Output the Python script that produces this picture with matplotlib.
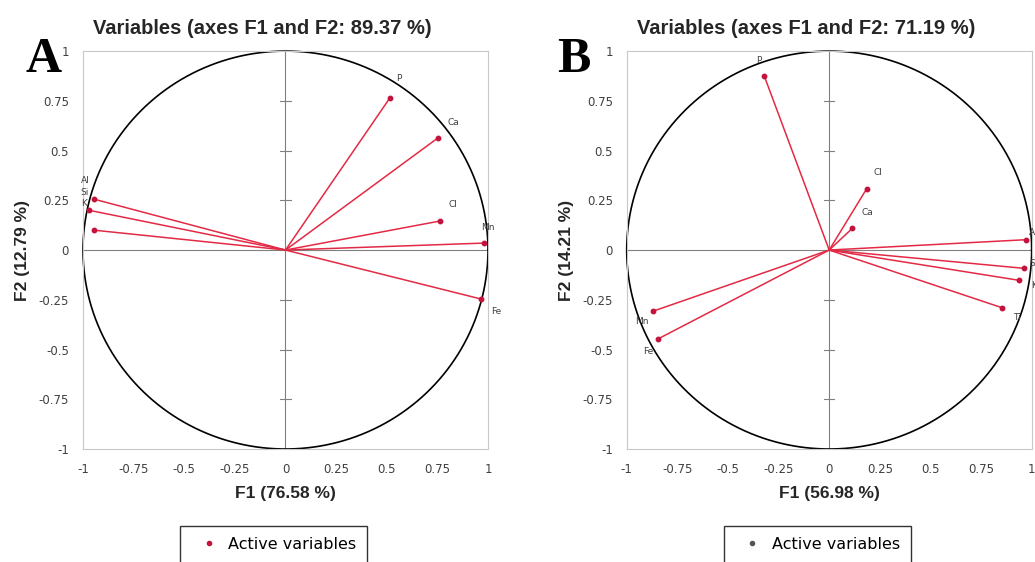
import numpy as np
import matplotlib.pyplot as plt

plt.rcParams['axes.unicode_minus'] = False

# panel A loadings
names_a = ['P', 'Ca', 'Cl', 'Mn', 'Fe', 'Al', 'Si', 'K']
f1_a = [0.515, 0.752, 0.763, 0.980, 0.965, -0.946, -0.970, -0.946]
f2_a = [0.764, 0.563, 0.146, 0.035, -0.246, 0.256, 0.200, 0.100]
lab_a = [(0.56, 0.86), (0.83, 0.64), (0.825, 0.23), (1.0, 0.115), (1.04, -0.31),
         (-0.99, 0.35), (-0.99, 0.29), (-0.995, 0.235)]

# panel B loadings
names_b = ['P', 'Cl', 'Ca', 'Al', 'Si', 'K', 'Ti', 'Mn', 'Fe']
f1_b = [-0.320, 0.185, 0.114, 0.971, 0.963, 0.937, 0.854, -0.869, -0.844]
f2_b = [0.873, 0.308, 0.109, 0.052, -0.092, -0.152, -0.290, -0.307, -0.446]
lab_b = [(-0.35, 0.955), (0.24, 0.39), (0.19, 0.19), (1.01, 0.09), (1.01, -0.07),
         (1.01, -0.18), (0.925, -0.34), (-0.925, -0.36), (-0.895, -0.51)]

titles = ['Variables (axes F1 and F2: 89.37 %)', 'Variables (axes F1 and F2: 71.19 %)']
xlabels = ['F1 (76.58 %)', 'F1 (56.98 %)']
ylabels = ['F2 (12.79 %)', 'F2 (14.21 %)']
letters = ['A', 'B']
ticks = [-1, -0.75, -0.5, -0.25, 0, 0.25, 0.5, 0.75, 1]
tick_txt = ['-1', '-0.75', '-0.5', '-0.25', '0', '0.25', '0.5', '0.75', '1']

line_col = '#e32a45'
dot_col = '#c4123d'
txt_col = '#404040'

fig = plt.figure(figsize=(10.35, 5.62), dpi=100)
fig.patch.set_facecolor('white')

lefts = [83 / 1035, 626.7 / 1035]
letter_x = [25 / 1035, 557 / 1035]
panels = [(names_a, f1_a, f2_a, lab_a), (names_b, f1_b, f2_b, lab_b)]

for i in range(2):
    names, f1, f2, labs = panels[i]
    ax = fig.add_axes([lefts[i], 1 - 449 / 562, 0.3913, 0.708])
    ax.set_xlim(-1, 1)
    ax.set_ylim(-1, 1)
    for s in ax.spines.values():
        s.set_color('#c8c8c8')
        s.set_linewidth(0.8)

    # centre axes with small tick marks
    ax.axhline(0, color='#808080', lw=0.8, zorder=1)
    ax.axvline(0, color='#808080', lw=0.8, zorder=1)
    for t in ticks:
        if t in (-1, 0, 1):
            continue
        ax.plot([-0.025, 0.025], [t, t], color='#808080', lw=0.8, zorder=1)

    # correlation circle
    th = np.linspace(0, 2 * np.pi, 400)
    ax.plot(np.cos(th), np.sin(th), color='black', lw=1.2, clip_on=False, zorder=2)

    for j in range(len(names)):
        ax.plot([0, f1[j]], [0, f2[j]], color=line_col, lw=1.1, zorder=3)
        ax.plot(f1[j], f2[j], 'o', color=dot_col, ms=3.2, zorder=4, clip_on=False)
        ax.text(labs[j][0], labs[j][1], names[j], fontsize=6.5, color=txt_col,
                ha='center', va='center', clip_on=False)

    ax.set_xticks(ticks)
    ax.set_yticks(ticks)
    ax.set_xticklabels(tick_txt)
    ax.set_yticklabels(tick_txt)
    ax.tick_params(length=0, labelsize=8.5, labelcolor=txt_col, pad=10)

    # title sits a bit left of the plot centre, as in the original
    ax.text(0.5 - 23 / 405, 1.042, titles[i], transform=ax.transAxes, fontsize=14.5,
            fontweight='bold', family='Liberation Sans', color='#262626',
            ha='center', va='baseline')
    ax.set_xlabel(xlabels[i], fontsize=12.5, fontweight='bold', family='Liberation Sans',
                  color='#262626', labelpad=7)
    ax.set_ylabel(ylabels[i], fontsize=12.5, fontweight='bold', family='Liberation Sans',
                  color='#262626', labelpad=6)

    fig.text(letter_x[i], 0.935, letters[i], fontsize=36, fontweight='bold',
             family='Liberation Serif', ha='left', va='top')

    # legend box
    leg = ax.legend([plt.Line2D([], [], ls='none', marker='o', ms=3,
                                color=dot_col if i == 0 else '#555555')],
                    ['Active variables'], loc='upper center',
                    bbox_to_anchor=(0.5 - 12 / 405, -0.173), frameon=True, fancybox=False,
                    edgecolor='black', fontsize=11.5, handletextpad=0.1,
                    borderpad=0.7, handlelength=2.2)
    leg.get_frame().set_linewidth(1.0)

fig.savefig('out.png', dpi=100)
